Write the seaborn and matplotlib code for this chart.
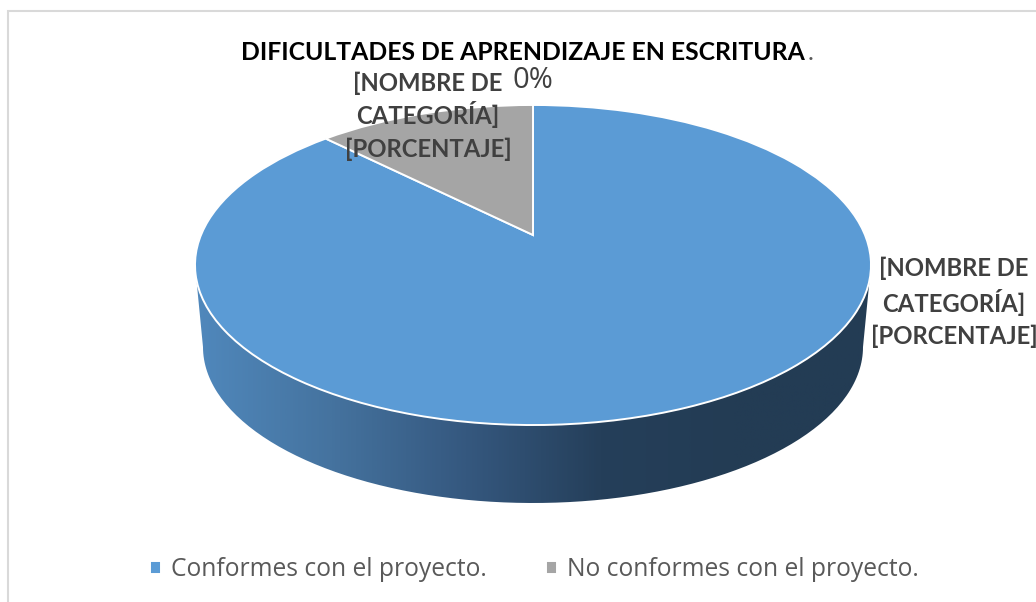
import numpy as np
import matplotlib
matplotlib.use("Agg")
import matplotlib.pyplot as plt
from matplotlib.colors import LinearSegmentedColormap
from matplotlib.path import Path
from matplotlib.patches import PathPatch
from matplotlib.transforms import Transform
import seaborn as sns

categories = ["Conformes con el proyecto.", "No conformes con el proyecto."]
shares = [87.5, 12.5]
title_main = "DIFICULTADES DE APRENDIZAJE EN ESCRITURA"
title_tail = "."
placeholder_lines = ["[NOMBRE DE", "CATEGORÍA]", "[PORCENTAJE]"]
stray_label = "0%"
slice_colors = ["#5B9BD5", "#A5A5A5"]
wall_colors = ["#5088BC", "#45739F", "#35587F", "#253F5A", "#233C54", "#233C54"]

sns.set_theme(style="white")
palette = sns.color_palette(slice_colors)

W, H = 1036, 602
fig = plt.figure(figsize=(W / 100, H / 100), dpi=100, facecolor="white")
ax = fig.add_axes([0, 0, 1, 1])

# geometry of the tilted disc (pixels)
APEX = (533.0, 235.0)
TILT, SX, SY = 0.1875, 332.0, 154.4


class Tilt(Transform):
    input_dims = output_dims = 2
    is_separable = False
    has_inverse = False

    def transform_non_affine(self, values):
        v = np.asarray(values, float)
        w = 1 + TILT * v[:, 1]
        return np.column_stack([APEX[0] + SX * v[:, 0] / w, APEX[1] - SY * v[:, 1] / w])


wedges, _ = ax.pie(shares, colors=palette, startangle=90, counterclock=False,
                   wedgeprops=dict(edgecolor="white", linewidth=1.4))
ax.set_aspect("auto")
ax.set_xlim(0, W)
ax.set_ylim(H, 0)
tilt = Tilt() + ax.transData
for w in wedges:
    w.set_transform(tilt)
    w.set_clip_on(False)
    w.set_zorder(3)

# side wall of the disc: gradient image clipped to the outline
top_y, top_rx = 265.0, 338.0
low_y, low_rx, low_ry = 347.0, 330.0, 156.0
t = np.linspace(0, np.pi, 160)
arc = np.column_stack([APEX[0] + low_rx * np.cos(t), low_y + low_ry * np.sin(t)])
outline = np.vstack([[APEX[0] + top_rx, top_y], arc, [APEX[0] - top_rx, top_y], [APEX[0] + top_rx, top_y]])
clip = PathPatch(Path(outline), facecolor="none", edgecolor="none", transform=ax.transData)
ax.add_patch(clip)
cmap = LinearSegmentedColormap.from_list("wall", wall_colors)
img = ax.imshow(np.linspace(0, 1, 512)[None, :], cmap=cmap, aspect="auto", zorder=2,
                extent=(APEX[0] - top_rx, APEX[0] + top_rx, 510, 260))
img.set_clip_path(clip)
ax.set_xlim(0, W)
ax.set_ylim(H, 0)

# chart frame (only left and top edges are visible)
ax.plot([8, 8, W], [H, 11, 11], color="#D9D9D9", lw=1.5, zorder=1, solid_joinstyle="miter")

# title
ax.text(241, 53, title_main, fontfamily="Lato", fontweight="bold", fontsize=17.85,
        color="black", ha="left", va="center", zorder=5)
ax.text(808, 53, title_tail, fontfamily="Lato", fontsize=17.85, color="#595959",
        ha="left", va="center", zorder=5)

# data labels
lab = dict(fontfamily="Lato", fontweight="bold", fontsize=17.2, color="#404040",
           ha="center", va="center", zorder=6)
for y, s in zip((83, 115, 149), placeholder_lines):
    ax.text(428, y, s, **lab)
for y, s in zip((268, 302, 336), placeholder_lines):
    ax.text(954, y, s, **lab)
ax.text(532.5, 81, stray_label, fontfamily="Open Sans", fontsize=21, color="#404040",
        ha="center", va="center", zorder=6)

# legend
leg = ax.legend(wedges, categories, ncol=2, loc="center", bbox_to_anchor=(534.5 / W, 1 - 570 / H),
                frameon=False, handlelength=0.45, handleheight=0.45,
                handletextpad=0.4, columnspacing=2.43, labelspacing=0,
                prop=dict(family="Open Sans", size=17.7))
for text in leg.get_texts():
    text.set_color("#595959")

ax.axis("off")
fig.savefig("out.png", dpi=100)
